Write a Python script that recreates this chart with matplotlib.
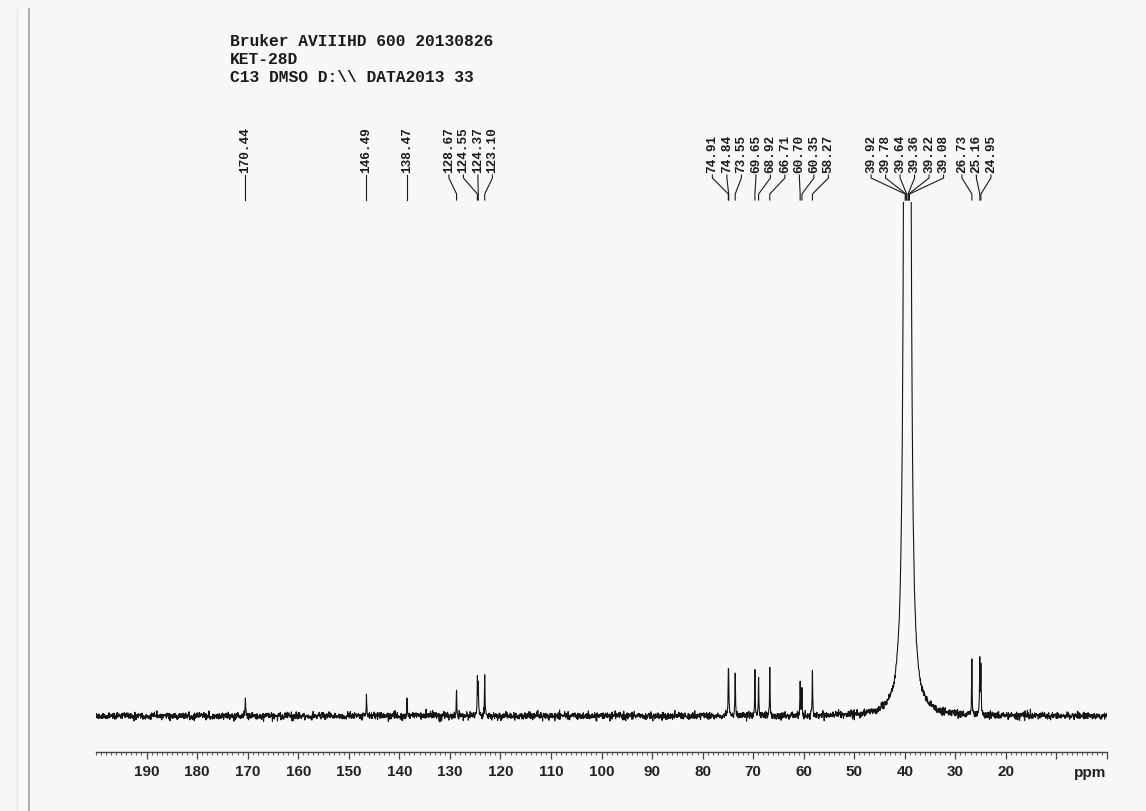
import numpy as np
import matplotlib
matplotlib.use("Agg")
import matplotlib.pyplot as plt
from matplotlib.lines import Line2D

# 13C spectrum, DMSO-d6, peak list (ppm) and approximate peak heights (a.u.)
peak_ppm = [170.44, 146.49, 138.47, 128.67, 124.55, 124.37, 123.10,
            74.91, 74.84, 73.55, 69.65, 68.92, 66.71, 60.70, 60.35, 58.27,
            39.92, 39.78, 39.64, 39.36, 39.22, 39.08,
            26.73, 25.16, 24.95]
peak_height = [20, 21, 16, 27, 35, 30, 40,
               34, 30, 42, 44, 39, 46, 34, 26, 46,
               560, 620, 680, 680, 620, 560,
               55, 54, 47]
# DMSO septet is much broader than the sample lines
peak_width = [0.06] * 16 + [0.25] * 6 + [0.06] * 3

header_lines = ["Bruker AVIIIHD 600 20130826",
                "KET-28D",
                "C13 DMSO D:\\\\ DATA2013 33"]
tick_major = list(range(0, 200, 10))
tick_labels = ["" if t < 20 else str(t) for t in tick_major]

W, H, DPI = 1146, 812, 100
X0, X1 = 96, 1107          # pixel extent of the ppm scale
AX_BOTTOM, AX_TOP = 753, 203
BASE = 717                 # baseline row

# spectrum on a fine grid, peak centres included so tops are exact
grid = np.arange(0.0, 200.0, 0.05)
ppm = np.unique(np.concatenate([grid, peak_ppm]))
spec = np.zeros_like(ppm)
for p, h, g in zip(peak_ppm, peak_height, peak_width):
    spec += h * g**2 / ((ppm - p)**2 + g**2)
rng = np.random.default_rng(11)
spec += rng.normal(0, 1.8, ppm.size)

fig = plt.figure(figsize=(W / DPI, H / DPI), dpi=DPI, facecolor="#f8f8f8")

ax = fig.add_axes([X0 / W, (H - AX_BOTTOM) / H, (X1 - X0) / W, (AX_BOTTOM - AX_TOP) / H])
ax.set_facecolor("none")
ax.plot(ppm, spec, color="#151515", lw=0.8)
ax.set_xlim(200, 0)
ax.set_ylim(-(AX_BOTTOM - BASE), BASE - AX_TOP)
for s in ["top", "left", "right"]:
    ax.spines[s].set_visible(False)
ax.spines["bottom"].set_color("#444444")
ax.spines["bottom"].set_linewidth(1.0)
ax.set_yticks([])
ax.set_xticks(tick_major)
ax.set_xticklabels(tick_labels, fontfamily="Liberation Sans", fontweight="bold",
                   fontsize=11, color="#222222")
ax.set_xticks(np.arange(0, 201, 1), minor=True)
ax.tick_params(axis="x", which="major", direction="out", length=5, width=0.9,
               color="#444444", pad=4)
ax.tick_params(axis="x", which="minor", direction="out", length=2.2, width=0.7,
               color="#555555")
fig.text(1090 / W, 1 - 773 / H, "ppm", ha="center", va="center",
         fontfamily="Liberation Sans", fontweight="bold", fontsize=11, color="#222222")

# overlay in pixel rows for the peak labels
lab = fig.add_axes([X0 / W, 0, (X1 - X0) / W, 1])
lab.set_xlim(200, 0)
lab.set_ylim(H, 0)
lab.axis("off")
lab.patch.set_visible(False)

px_per_ppm = (X1 - X0) / 200.0
spacing = 14.5 / px_per_ppm


def label_span(grp):
    mid = (grp[0] + grp[-1]) / 2
    half = (len(grp) - 1) / 2 * spacing
    return mid + half, mid - half


# merge neighbouring groups until no two label blocks overlap
groups = [[p] for p in sorted(peak_ppm, reverse=True)]
merged = True
while merged:
    merged = False
    for i in range(len(groups) - 1):
        _, lo = label_span(groups[i])
        hi, _ = label_span(groups[i + 1])
        if lo - hi < spacing:
            groups[i] = groups[i] + groups.pop(i + 1)
            merged = True
            break

TXT_BOT, LINE_TOP, LINE_BOT = 173, 176, 201
for grp in groups:
    hi, _ = label_span(grp)
    for i, p in enumerate(grp):
        lx = hi - i * spacing
        lab.text(lx, TXT_BOT, f"{p:.2f}", rotation=90, ha="center", va="bottom",
                 fontfamily="Liberation Mono", fontweight="bold", fontsize=9.2,
                 color="#1a1a1a")
        if len(grp) == 1:
            lab.plot([p, p], [LINE_TOP, LINE_BOT], color="#1a1a1a", lw=0.8)
        else:
            lab.plot([lx, lx, p, p], [LINE_TOP, LINE_TOP + 3, LINE_BOT - 6, LINE_BOT],
                     color="#1a1a1a", lw=0.8)

for k, line in enumerate(header_lines):
    fig.text(230 / W, 1 - (42 + 17.5 * k) / H, line, ha="left", va="center",
             fontfamily="Liberation Mono", fontweight="bold", fontsize=11.7,
             color="#1a1a1a")

# page edge on the left
fig.add_artist(Line2D([17 / W, 17 / W], [0, 1 - 10 / H], color="#e4e4e4", lw=1.0))
fig.add_artist(Line2D([29 / W, 29 / W], [0, 1 - 10 / H], color="#9a9a9a", lw=1.1))

fig.savefig("out.png", dpi=DPI, facecolor=fig.get_facecolor())
